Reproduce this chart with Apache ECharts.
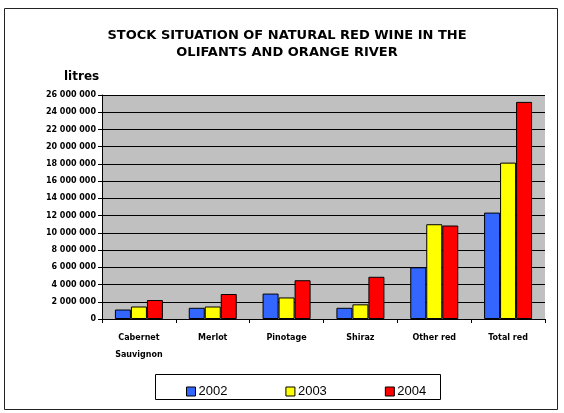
<!DOCTYPE html>
<html>
<head>
<meta charset="utf-8">
<script src="https://cdn.jsdelivr.net/npm/echarts@6/dist/echarts.min.js"></script>
<style>html,body{margin:0;padding:0;background:#fff}#c{width:564px;height:413px}</style>
</head>
<body>
<div id="c"></div>
<script>
var categories = ['Cabernet\nSauvignon', 'Merlot', 'Pinotage', 'Shiraz', 'Other red', 'Total red'];
var years = ['2002', '2003', '2004'];
var values2002 = [1100000, 1300000, 2950000, 1300000, 6000000, 12350000];
var values2003 = [1450000, 1450000, 2500000, 1700000, 11000000, 18150000];
var values2004 = [2200000, 2900000, 4500000, 4900000, 10850000, 25200000];
var colors = ['#3366FF', '#FFFF00', '#FF0000'];

var chart = echarts.init(document.getElementById('c'), null, {renderer: 'canvas'});
function fmt(v) {
  return String(v).replace(/\B(?=(\d{3})+(?!\d))/g, ' ');
}
var seriesData = [values2002, values2003, values2004];
var series = years.map(function (y, i) {
  return {
    name: y,
    type: 'bar',
    data: seriesData[i],
    barWidth: 16,
    barGap: '0%',
    itemStyle: {color: colors[i], borderColor: '#000', borderWidth: 1},
    emphasis: {disabled: true}
  };
});
chart.setOption({
  animation: false,
  backgroundColor: '#fff',
  textStyle: {fontFamily: 'DejaVu Sans'},
  graphic: [
    {type: 'rect', shape: {x: 4.5, y: 8.5, width: 553, height: 401}, style: {fill: 'none', stroke: '#222', lineWidth: 1}, silent: true, z: -1},
    {type: 'rect', shape: {x: 155.5, y: 374.5, width: 285, height: 25}, style: {fill: '#fff', stroke: '#000', lineWidth: 1}, silent: true, z: 0},
    {type: 'text', x: 287, y: 36, style: {text: 'STOCK SITUATION OF NATURAL RED WINE IN THE', font: 'bold 13px DejaVu Sans', fill: '#000', align: 'center', verticalAlign: 'middle'}},
    {type: 'text', x: 287, y: 53, style: {text: 'OLIFANTS AND ORANGE RIVER', font: 'bold 13px DejaVu Sans', fill: '#000', align: 'center', verticalAlign: 'middle'}},
    {type: 'text', x: 64, y: 77, style: {text: 'litres', font: 'bold 12px DejaVu Sans', fill: '#000', verticalAlign: 'middle'}}
  ],
  legend: {
    data: years,
    left: 181,
    top: 380,
    itemWidth: 9,
    itemHeight: 9,
    itemGap: 58,
    icon: 'rect',
    itemStyle: {borderColor: '#000', borderWidth: 1},
    textStyle: {fontSize: 13, color: '#000', fontFamily: 'Liberation Sans', padding: [0, 0, 0, -2]},
    z: 5
  },
  grid: {left: 102, right: 19, top: 95, bottom: 94, show: true, backgroundColor: '#C0C0C0', borderWidth: 0},
  xAxis: {
    type: 'category',
    data: categories,
    axisLine: {lineStyle: {color: '#000', width: 1}},
    axisTick: {show: true, length: 4, lineStyle: {color: '#000'}},
    axisLabel: {fontSize: 8, fontWeight: 'bold', color: '#000', lineHeight: 17, margin: 10, interval: 0}
  },
  yAxis: {
    type: 'value',
    min: 0,
    max: 26000000,
    interval: 2000000,
    axisLine: {show: true, lineStyle: {color: '#000', width: 1}},
    axisTick: {show: true, length: 4, lineStyle: {color: '#000'}},
    splitLine: {show: true, lineStyle: {color: '#000', width: 1}},
    axisLabel: {fontSize: 8, fontWeight: 'bold', color: '#000', margin: 6, formatter: fmt}
  },
  series: series
});
</script>
</body>
</html>
